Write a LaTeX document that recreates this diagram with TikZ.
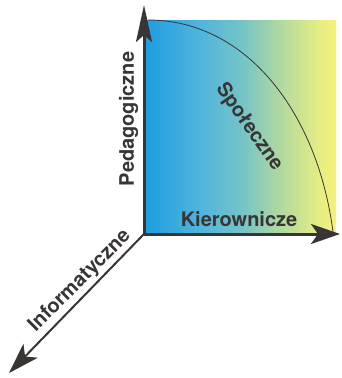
\documentclass[tikz,border=0pt]{standalone}
\usepackage{fontspec}
\setmainfont{TeX Gyre Heros}
\usetikzlibrary{arrows.meta}

\definecolor{axisgray}{RGB}{58,53,53}
\definecolor{sA}{RGB}{30,158,224}
\definecolor{sB}{RGB}{80,180,220}
\definecolor{sC}{RGB}{115,195,200}
\definecolor{sD}{RGB}{175,216,160}
\definecolor{sE}{RGB}{232,238,130}
\definecolor{sF}{RGB}{246,241,120}
\pgfdeclarehorizontalshading{bluetoyellow}{100bp}{color(0bp)=(sA); color(25bp)=(sA);
  color(39bp)=(sB); color(50bp)=(sC); color(60bp)=(sD); color(71bp)=(sE);
  color(75bp)=(sF); color(100bp)=(sF)}

\tikzset{
  axislabel/.style={text=axisgray, font=\bfseries\fontsize{20}{24}\selectfont, inner sep=0pt},
}

\begin{document}
\begin{tikzpicture}[x=1pt, y=-1pt]
  \useasboundingbox (0,0) rectangle (341,378);
  \coordinate (O) at (144,234);
  \coordinate (P) at (144,5);
  \coordinate (K) at (340,234);
  \coordinate (I) at (9,373);
  \coordinate (A) at (148,20);
  \coordinate (B) at (333,232);

  \shade[shading=bluetoyellow] (146,20) rectangle (336,232);
  \draw[axisgray, line width=0.8pt] (A) .. controls (248,20) and (318,115) .. (B);

  \draw[axisgray, line width=3pt, -{Stealth[length=37pt, width=16pt, inset=7pt]}] (O) -- (P);
  \draw[axisgray, line width=3pt, -{Stealth[length=29pt, width=20pt, inset=7pt]}] (O) -- (K);
  \draw[axisgray, line width=2pt, -{Stealth[length=31pt, width=20pt, inset=8pt]}] (O) -- (I);

  \node[axislabel, rotate=90] (ped) at (128.5,119) {Pedagogiczne};
  \node[axislabel] (kie) at (239,219.5) {Kierownicze};
  \node[axislabel, rotate=-55] (spo) at (249,127) {Społeczne};
  \node[axislabel, rotate=45] (inf) at (80,281) {Informatyczne};
\end{tikzpicture}
\end{document}
